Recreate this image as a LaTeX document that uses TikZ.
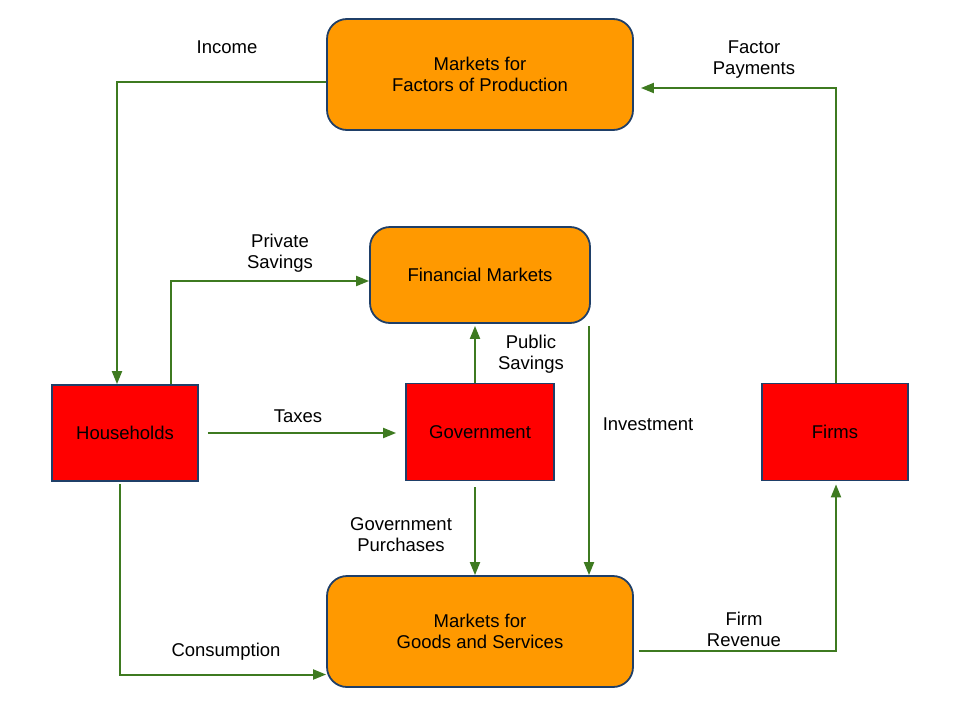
\documentclass[tikz,border=0pt]{standalone}
\usepackage{fontspec}
\setmainfont{Liberation Sans}
\usepackage{xcolor}
\usetikzlibrary{positioning,arrows.meta}
\definecolor{boxorange}{RGB}{255,153,0}
\definecolor{boxred}{RGB}{255,0,0}
\definecolor{boxline}{RGB}{31,63,104}
\definecolor{flowgreen}{RGB}{62,122,32}
\begin{document}
\begin{tikzpicture}[x=1pt,y=-1pt]
		\tikzstyle{market_style} = [rectangle,rounded corners=20pt,draw=boxline,line width=1.8pt,fill=boxorange,align=center,font=\fontsize{18.5}{21}\selectfont]
		\tikzstyle{sector_style} = [rectangle,draw=boxline,line width=1.8pt,fill=boxred,align=center,font=\fontsize{18.5}{21}\selectfont]
		\tikzstyle{flow_style} = [draw=flowgreen,line width=2pt,-{Triangle[length=13pt,width=10pt]}]
		\tikzstyle{label_style} = [align=center,font=\fontsize{18.5}{21}\selectfont]
		\useasboundingbox (0,0) rectangle (960,720);
		% markets
		\node[market_style,minimum width=306pt,minimum height=111pt] (factors) at (480,74.5) {Markets for\\Factors of Production};
		\node[market_style,minimum width=220pt,minimum height=96pt] (fin) at (480,275) {Financial Markets};
		\node[market_style,minimum width=306pt,minimum height=111pt] (goods) at (480,631.5) {Markets for\\Goods and Services};
		% sectors
		\node[sector_style,minimum width=146pt,minimum height=96pt] (hh) at (125,433) {Households};
		\node[sector_style,minimum width=148pt,minimum height=97pt] (gov) at (480,432) {Government};
		\node[sector_style,minimum width=146pt,minimum height=97pt] (firms) at (835,432) {Firms};
		% flows
		\draw[flow_style] ([yshift=-7.5pt]factors.west) -| ([xshift=-8pt]hh.north);
		\draw[flow_style] ([xshift=46pt]hh.north) |- ([yshift=-6pt]fin.west);
		\draw[flow_style,shorten <=9pt,shorten >=9pt] (hh.east) -- (hh.east -| gov.west);
		\draw[flow_style,shorten >=2pt] ([xshift=-5pt]gov.north) -- ([xshift=-5pt]fin.south);
		\draw[flow_style,shorten <=2pt] ([xshift=109pt]fin.south) -- ([xshift=109pt]goods.north);
		\draw[flow_style,shorten <=6pt] ([xshift=-5pt]gov.south) -- ([xshift=-5pt]goods.north);
		\draw[flow_style,shorten <=2pt] ([xshift=-5pt]hh.south) |- ([yshift=-43pt]goods.west);
		\draw[flow_style,shorten <=5pt,shorten >=3pt] ([yshift=-19pt]goods.east) -| ([xshift=1pt]firms.south);
		\draw[flow_style,shorten >=7pt] ([xshift=1pt]firms.north) |- ([yshift=-13.5pt]factors.east);
		% labels
		\node[label_style] (income) at (227,47) {Income};
		\node[label_style] (privsav) at (280,253) {Private\\Savings};
		\node[label_style] (taxes) at (298,416) {Taxes};
		\node[label_style] (pubsav) at (531,354) {Public\\Savings};
		\node[label_style] (invest) at (648,424) {Investment};
		\node[label_style] (govpur) at (401,535) {Government\\Purchases};
		\node[label_style] (consum) at (226,652) {Consumption};
		\node[label_style] (revenue) at (744,629) {Firm\\Revenue};
		\node[label_style] (factpay) at (754,60) {Factor\\Payments};
\end{tikzpicture}
\end{document}
